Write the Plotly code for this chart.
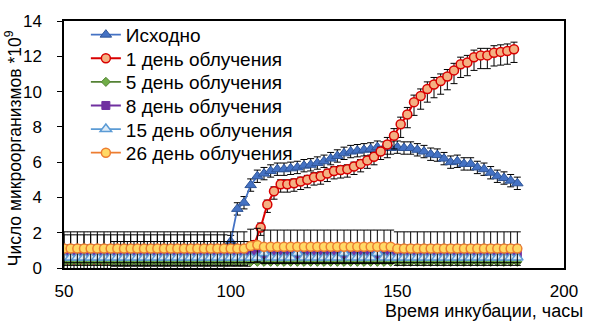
import plotly.graph_objects as go

# Sampling times, hours
t_even = list(range(50, 187, 2))   # 50 ... 186
t_odd = list(range(51, 186, 2))    # 51 ... 185

# Исходно (even times)
ishodno = [0.8] * 25 + [
    1.5, 3.35, 3.7, 4.7, 5.2, 5.35, 5.5, 5.6, 5.6, 5.65, 5.7, 5.8, 5.85, 5.95,
    6.05, 6.2, 6.35, 6.5, 6.6, 6.65, 6.7, 6.75, 6.85, 6.8, 6.8, 6.85, 6.8, 6.8,
    6.7, 6.6, 6.45, 6.4, 6.2, 6.0, 6.05, 5.9, 5.9, 5.7, 5.6, 5.4, 5.2, 5.1,
    4.95, 4.8,
]
ishodno_err = [1.08] * 25 + [0.35] * 44

# 1 день облучения (odd times)
day1 = [0.5] * 7 + [0.8] * 21 + [
    1.3, 2.3, 3.6, 4.35, 4.75, 4.75, 4.8, 4.9, 5.0, 5.15,
    5.2, 5.35, 5.5, 5.55, 5.6, 5.75, 5.9, 6.1, 6.3, 6.6,
    7.0, 7.5, 8.15, 8.7, 9.4, 9.75, 10.15, 10.4, 10.6, 10.85,
    11.2, 11.55, 11.65, 11.95, 12.05, 12.05, 12.2, 12.25, 12.3, 12.4,
]
day1_err_plus = [0.7] * 28 + [0.25] * 20 + [0.4] * 20
day1_err_minus = [0.7] * 28 + [0.45] * 20 + [0.75] * 20

# 5 день облучения
day5 = [0.35] * 69

# 8 день облучения
day8 = [0.8] * 69
day8_err = [0.5] * 69

# 15 день облучения
day15 = ([0.6] * 30 + [0.85] + [0.6] * 4 + [0.85] + [0.6] * 6 + [0.85]
         + [0.6] * 4 + [0.85] + [0.6] * 21)

# 26 день облучения
day26 = [1.1] * 28 + [1.25, 1.3] + [1.2] * 20 + [1.1] * 19
day26_err = [0.95] * 69

FONT = "Liberation Sans, Arial, sans-serif"

L, R, T, B = 64, 23, 17, 55
W, H = 590, 323
pw, ph = W - L - R, H - T - B


def err(plus, minus=None):
    d = dict(type="data", array=plus, color="black", thickness=1, width=3.5)
    if minus is not None:
        d["symmetric"] = False
        d["arrayminus"] = minus
    return d


fig = go.Figure()

traces = [
    dict(x=t_even, y=ishodno, name="Исходно",
         line=dict(color="#4472C4", width=1.8),
         marker=dict(symbol="triangle-up", size=10, color="#4472C4",
                     line=dict(color="#2F5597", width=1)),
         error_y=err(ishodno_err)),
    dict(x=t_odd, y=day1, name="1 день облучения",
         line=dict(color="#D90000", width=2),
         marker=dict(symbol="circle", size=9, color="#F4B183",
                     line=dict(color="#D90000", width=1.5)),
         error_y=err(day1_err_plus, day1_err_minus)),
    dict(x=t_even, y=day5, name="5 день облучения",
         line=dict(color="#548235", width=1.8),
         marker=dict(symbol="diamond", size=7, color="#70AD47",
                     line=dict(color="#548235", width=1))),
    dict(x=t_even, y=day8, name="8 день облучения",
         line=dict(color="#7030A0", width=1.8),
         marker=dict(symbol="square", size=8, color="#7030A0",
                     line=dict(color="#7030A0", width=1)),
         error_y=err(day8_err)),
    dict(x=t_even, y=day15, name="15 день облучения",
         line=dict(color="#5B9BD5", width=1.8),
         marker=dict(symbol="triangle-up", size=10, color="#DDEBF7",
                     line=dict(color="#5B9BD5", width=1.5))),
    dict(x=t_even, y=day26, name="26 день облучения",
         line=dict(color="#ED7D31", width=1.8),
         marker=dict(symbol="circle", size=9, color="#FFD966",
                     line=dict(color="#ED7D31", width=1.5)),
         error_y=err(day26_err)),
]

# one legend box per series so the rows sit at a fixed 24 px pitch
legend_rows = [31, 55, 79, 103, 127, 151]
layout_legends = {}
for i, (tr, row) in enumerate(zip(traces, legend_rows)):
    key = "legend" if i == 0 else f"legend{i + 1}"
    fig.add_trace(go.Scatter(mode="lines+markers", legend=key, **tr))
    layout_legends[key] = dict(
        x=(86 - L) / pw, y=1 - (row - T) / ph, xanchor="left", yanchor="middle",
        bgcolor="rgba(0,0,0,0)", borderwidth=0,
        font=dict(family=FONT, size=19, color="black"),
    )

fig.update_layout(
    width=W, height=H,
    margin=dict(l=L, r=R, t=T, b=B),
    paper_bgcolor="white", plot_bgcolor="white",
    font=dict(family=FONT, size=17, color="black"),
    showlegend=True,
    xaxis=dict(
        range=[50, 200], tickvals=[50, 100, 150, 200],
        showline=True, linecolor="black", linewidth=1.5, mirror=True,
        ticks="", showgrid=False, zeroline=False,
        ticklabelstandoff=7,
        tickfont=dict(family=FONT, size=17, color="black"),
    ),
    yaxis=dict(
        range=[0, 14], dtick=2,
        showline=True, linecolor="black", linewidth=1.5, mirror=True,
        ticks="outside", ticklen=5, tickcolor="black",
        showgrid=False, zeroline=False,
        ticklabelstandoff=12,
        tickfont=dict(family=FONT, size=17, color="black"),
    ),
    annotations=[
        dict(text="Число микроорганизмов *10<sup>9</sup>", textangle=-90,
             xref="paper", yref="paper", x=-(L - 13) / pw, y=1 - (146 - T) / ph,
             xanchor="center", yanchor="middle", showarrow=False,
             font=dict(family=FONT, size=17.5, color="black")),
        dict(text="Время инкубации, часы",
             xref="paper", yref="paper", x=(588 - L) / pw, y=-(312 - (H - B)) / ph,
             xanchor="right", yanchor="middle", showarrow=False,
             font=dict(family=FONT, size=18, color="black")),
    ],
    **layout_legends,
)

fig.write_html("out.html")
